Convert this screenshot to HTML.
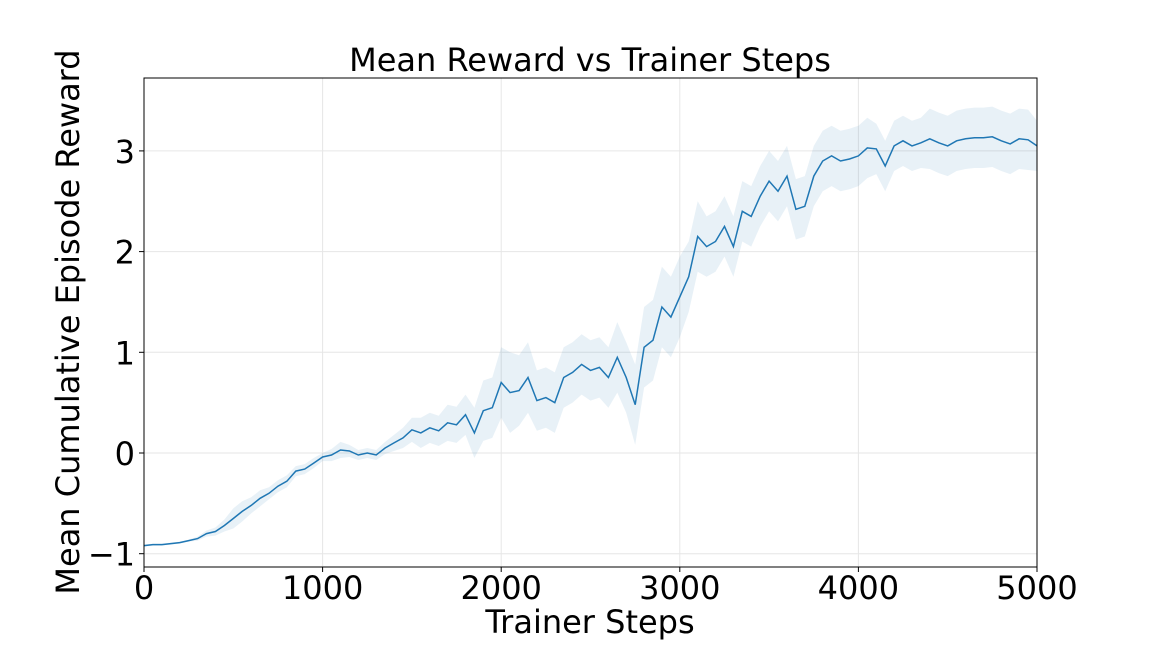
<!DOCTYPE html>
<html><head><meta charset="utf-8"><style>
body{margin:0;background:#fff;}
svg text{font-family:"DejaVu Sans","Liberation Sans",sans-serif;fill:#000;}
</style></head><body>
<svg id="chart" width="1152" height="648" viewBox="0 0 1152 648" xmlns="http://www.w3.org/2000/svg">
<g id="grid"></g>
<path id="band" fill="#1f77b4" fill-opacity="0.1" stroke="none"></path>
<path id="line" fill="none" stroke="#1f77b4" stroke-width="1.5"></path>
<rect x="144" y="78" width="893" height="489" fill="none" stroke="#000" stroke-width="1"></rect>
<g id="ticks"></g>
<text x="590" y="71" font-size="32" text-anchor="middle">Mean Reward vs Trainer Steps</text>
<text x="590" y="633" font-size="32" text-anchor="middle">Trainer Steps</text>
<text transform="translate(79,322) rotate(-90)" font-size="32" text-anchor="middle">Mean Cumulative Episode Reward</text>
</svg>
<script>
const steps=[0,50,100,150,200,250,300,350,400,450,500,550,600,650,700,750,800,850,900,950,1000,1050,1100,1150,1200,1250,1300,1350,1400,1450,1500,1550,1600,1650,1700,1750,1800,1850,1900,1950,2000,2050,2100,2150,2200,2250,2300,2350,2400,2450,2500,2550,2600,2650,2700,2750,2800,2850,2900,2950,3000,3050,3100,3150,3200,3250,3300,3350,3400,3450,3500,3550,3600,3650,3700,3750,3800,3850,3900,3950,4000,4050,4100,4150,4200,4250,4300,4350,4400,4450,4500,4550,4600,4650,4700,4750,4800,4850,4900,4950,5000];
const meanReward=[-0.92,-0.91,-0.91,-0.9,-0.89,-0.87,-0.85,-0.8,-0.78,-0.72,-0.65,-0.58,-0.52,-0.45,-0.4,-0.33,-0.28,-0.18,-0.16,-0.1,-0.04,-0.02,0.03,0.02,-0.02,0.0,-0.02,0.05,0.1,0.15,0.23,0.2,0.25,0.22,0.3,0.28,0.38,0.2,0.42,0.45,0.7,0.6,0.62,0.75,0.52,0.55,0.5,0.75,0.8,0.88,0.82,0.85,0.75,0.95,0.75,0.48,1.05,1.12,1.45,1.35,1.55,1.75,2.15,2.05,2.1,2.25,2.05,2.4,2.35,2.55,2.7,2.6,2.75,2.42,2.45,2.75,2.9,2.95,2.9,2.92,2.95,3.03,3.02,2.85,3.05,3.1,3.05,3.08,3.12,3.08,3.05,3.1,3.12,3.13,3.13,3.14,3.1,3.07,3.12,3.11,3.05];
const spread=[0.01,0.01,0.01,0.01,0.01,0.01,0.02,0.03,0.04,0.06,0.1,0.1,0.08,0.08,0.06,0.06,0.06,0.05,0.05,0.05,0.04,0.06,0.08,0.06,0.05,0.05,0.05,0.06,0.08,0.1,0.12,0.15,0.15,0.15,0.18,0.18,0.2,0.25,0.3,0.3,0.35,0.4,0.35,0.35,0.3,0.3,0.3,0.3,0.3,0.3,0.3,0.3,0.3,0.35,0.35,0.4,0.4,0.4,0.4,0.4,0.4,0.35,0.35,0.3,0.3,0.3,0.3,0.3,0.3,0.3,0.3,0.3,0.3,0.3,0.3,0.3,0.3,0.3,0.3,0.3,0.3,0.3,0.25,0.25,0.25,0.25,0.25,0.25,0.3,0.3,0.3,0.3,0.3,0.3,0.3,0.3,0.3,0.3,0.3,0.3,0.25];
const xTicks=[0,1000,2000,3000,4000,5000];
const yTicks=[-1,0,1,2,3];
const yTickLabels=["\u22121","0","1","2","3"];
const X=v=>144+v/5000*893;
const Y=v=>453-v*100.7;
const NS="http://www.w3.org/2000/svg";
const grid=document.getElementById('grid'),ticks=document.getElementById('ticks');
function mk(tag,attrs,parent){const e=document.createElementNS(NS,tag);for(const k in attrs)e.setAttribute(k,attrs[k]);parent.appendChild(e);return e;}
xTicks.forEach(t=>{
 const g=mk('line',{x1:X(t),x2:X(t),y1:78,y2:567,stroke:'#e6e6e6','stroke-width':1},grid);
 
 
 const tk=mk('line',{x1:X(t),x2:X(t),y1:567,y2:572,stroke:'#000'},ticks);
 
 
 const tx=mk('text',{x:X(t),y:599,'font-size':32,'text-anchor':'middle'},ticks);
 tx.textContent=t;
 
 
});
yTicks.forEach((t,i)=>{
 const g=mk('line',{x1:144,x2:1037,y1:Y(t),y2:Y(t),stroke:'#e6e6e6','stroke-width':1},grid);
 
 
 const tk=mk('line',{x1:139,x2:144,y1:Y(t),y2:Y(t),stroke:'#000'},ticks);
 
 
 const tx=mk('text',{x:135,y:Y(t)+12,'font-size':32,'text-anchor':'end'},ticks);
 tx.textContent=yTickLabels[i];
 
 
});
let d='';steps.forEach((s,i)=>{d+=(i?'L':'M')+X(s).toFixed(1)+','+Y(meanReward[i]).toFixed(1);});
document.getElementById('line').setAttribute('d',d);
let b='';steps.forEach((s,i)=>{b+=(i?'L':'M')+X(s).toFixed(1)+','+Y(meanReward[i]+spread[i]).toFixed(1);});
for(let i=steps.length-1;i>=0;i--){b+='L'+X(steps[i]).toFixed(1)+','+Y(meanReward[i]-spread[i]).toFixed(1);}
document.getElementById('band').setAttribute('d',b+'Z');
</script>
</body></html>
